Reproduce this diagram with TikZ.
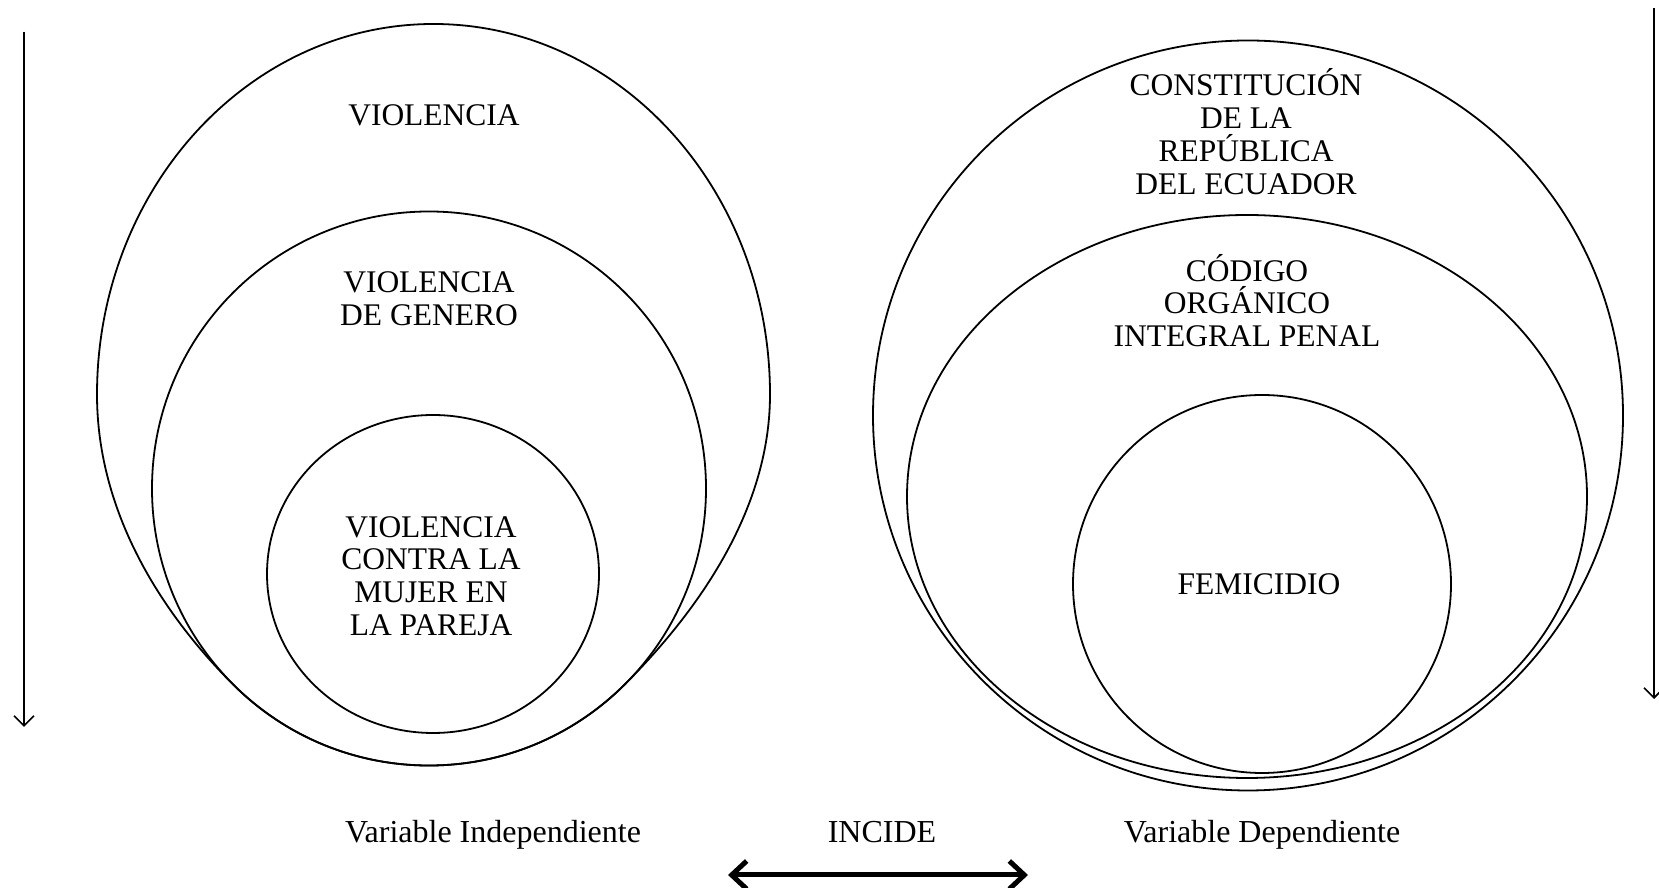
\documentclass[tikz,border=0pt]{standalone}
\usepackage{fontspec}
\setmainfont{Liberation Serif}
\usetikzlibrary{arrows.meta}
\begin{document}
\begin{tikzpicture}[x=1pt,y=1pt,
  ring/.style={draw=black, line width=1.8pt, line join=round},
  lbl/.style={inner sep=0pt, align=center, font=\fontsize{31.5}{32.8}\selectfont},
  caption/.style={inner sep=0pt, anchor=base, font=\fontsize{32}{34}\selectfont},
  sidearrow/.style={line width=1.7pt, -{Straight Barb[length=10pt,width=20pt]}},
  bothways/.style={line width=5pt, {Straight Barb[length=15pt,width=28pt]}-{Straight Barb[length=15pt,width=28pt]}}]
\useasboundingbox (0,0) rectangle (1659,888);

% ---- left group ----
\draw[ring] (770,493.5) arc[start angle=0,end angle=180,x radius=336.5,y radius=370.5]
  .. controls (97,382.5) and (154.5,282.1) .. (233,203.6)
  arc[start angle=225,end angle=315,radius=277]
  .. controls (703.3,282.1) and (770,382.5) .. (770,493.5) -- cycle;
\draw[ring] (429,399.5) circle[radius=277];
\draw[ring] (433,314) ellipse[x radius=166,y radius=159];

% ---- right group ----
\draw[ring] (1248,472.5) circle[radius=375];
\draw[ring] (1247,391.5) ellipse[x radius=340,y radius=281.5];
\draw[ring] (1262,304) circle[radius=189];

% ---- texts ----
\node[lbl] (violencia) at (434,773) {VIOLENCIA};
\node[lbl] (genero) at (429,589.5) {VIOLENCIA\\DE GENERO};
\node[lbl] (pareja) at (431,312) {VIOLENCIA\\CONTRA LA\\MUJER EN\\LA PAREJA};
\node[lbl] (constitucion) at (1246,756.5) {CONSTITUCIÓN\\DE LA\\REPÚBLICA\\DEL ECUADOR};
\node[lbl] (codigo) at (1247,587.5) {CÓDIGO\\ORGÁNICO\\INTEGRAL PENAL};
\node[lbl] (femicidio) at (1259,304) {FEMICIDIO};
\node[caption] (vind) at (493,45) {Variable Independiente};
\node[caption] (incide) at (882,45) {INCIDE};
\node[caption] (vdep) at (1262,45) {Variable Dependiente};

% ---- arrows ----
\coordinate (la1) at (24,856);
\coordinate (la2) at (24,161);
\coordinate (ra1) at (1654,880);
\coordinate (ra2) at (1654,189);
\coordinate (ia) at (728,13);
\coordinate (ib) at (1028,13);
\draw[sidearrow] (la1) -- (la2);
\draw[sidearrow] (ra1) -- (ra2);
\draw[bothways] (ia) -- (ib);
\end{tikzpicture}
\end{document}
